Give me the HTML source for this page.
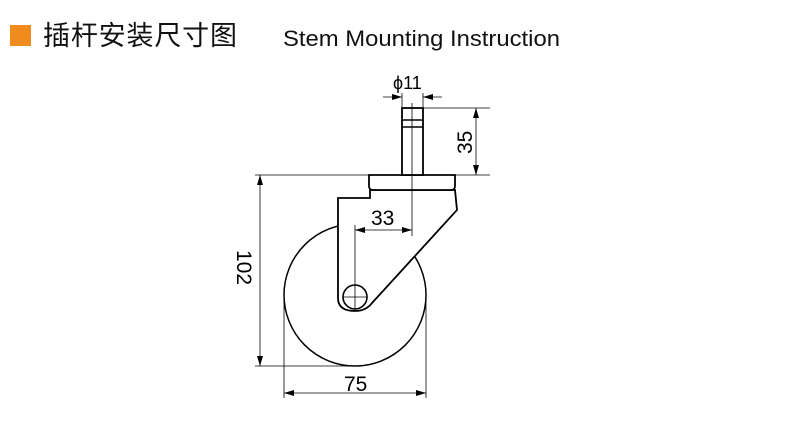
<!DOCTYPE html>
<html><head><meta charset="utf-8"><style>html,body{margin:0;padding:0;background:#fff;width:789px;height:425px;overflow:hidden}</style></head>
<body>
<svg width="789" height="425" viewBox="0 0 789 425" xmlns="http://www.w3.org/2000/svg">
<defs>
<marker id="a" viewBox="0 0 10 6" refX="10" refY="3" markerWidth="10" markerHeight="6" orient="auto-start-reverse" markerUnits="userSpaceOnUse"><path d="M0,0L10,3L0,6z" fill="#000"/></marker>
</defs>
<rect x="10" y="25" width="21" height="21" fill="#f08c1e"/>
<text x="43" y="45" font-family="Noto Sans CJK SC, sans-serif" font-size="27" textLength="194" fill="#111">插杆安装尺寸图</text>
<text x="283" y="46" font-family="Liberation Sans, sans-serif" font-size="22" textLength="277" lengthAdjust="spacingAndGlyphs" fill="#111">Stem Mounting Instruction</text>
<g fill="none" stroke="#000" stroke-width="1.2">
<circle cx="355" cy="295" r="71" stroke-width="1.5"/>
<path d="M338,198 L370,198 L370,190 L455,190 L457,210 L372,303 Q366,311 355,311 Q338,311 338,298 Z" fill="#fff" stroke-width="1.8"/>
<path d="M369,175 L455,175 L455,186 Q455,190 451,190 L373,190 Q369,190 369,186 Z" fill="#fff" stroke-width="1.8"/>
<rect x="402" y="108" width="21" height="67" fill="#fff" stroke-width="1.8"/>
<line x1="402" y1="120" x2="423" y2="120" stroke-width="1.5"/>
<line x1="402" y1="127" x2="423" y2="127" stroke-width="1.5"/>
<circle cx="355" cy="297" r="12" fill="#fff" stroke-width="1.6"/>
<line x1="355" y1="225" x2="355" y2="310" stroke-width="0.8"/>
<line x1="343" y1="297" x2="367" y2="297" stroke-width="0.8"/>
<line x1="412" y1="103" x2="412" y2="236" stroke-width="0.8"/>
</g>
<g fill="none" stroke="#000" stroke-width="0.8">
<line x1="255" y1="175" x2="369" y2="175"/>
<line x1="255" y1="366" x2="355" y2="366"/>
<line x1="260" y1="175" x2="260" y2="366" marker-start="url(#a)" marker-end="url(#a)"/>
<line x1="284" y1="295" x2="284" y2="398"/>
<line x1="426" y1="295" x2="426" y2="398"/>
<line x1="284" y1="393" x2="426" y2="393" marker-start="url(#a)" marker-end="url(#a)"/>
<line x1="423" y1="108" x2="490" y2="108"/>
<line x1="455" y1="175" x2="490" y2="175"/>
<line x1="476" y1="108" x2="476" y2="175" marker-start="url(#a)" marker-end="url(#a)"/>
<line x1="402" y1="93" x2="402" y2="108"/>
<line x1="423" y1="93" x2="423" y2="108"/>
<line x1="383" y1="97" x2="402" y2="97" marker-end="url(#a)"/>
<line x1="442" y1="97" x2="423" y2="97" marker-end="url(#a)"/>
<line x1="355" y1="230" x2="412" y2="230" marker-start="url(#a)" marker-end="url(#a)"/>
</g>
<g font-family="Liberation Sans, sans-serif" font-size="21" fill="#000">
<text x="393" y="89" font-size="18">ϕ11</text>
<text x="371" y="225">33</text>
<text x="344" y="391">75</text>
<text transform="translate(472,154) rotate(-90)">35</text>
<text transform="translate(237,250) rotate(90)">102</text>
</g>
</svg>
</body></html>
